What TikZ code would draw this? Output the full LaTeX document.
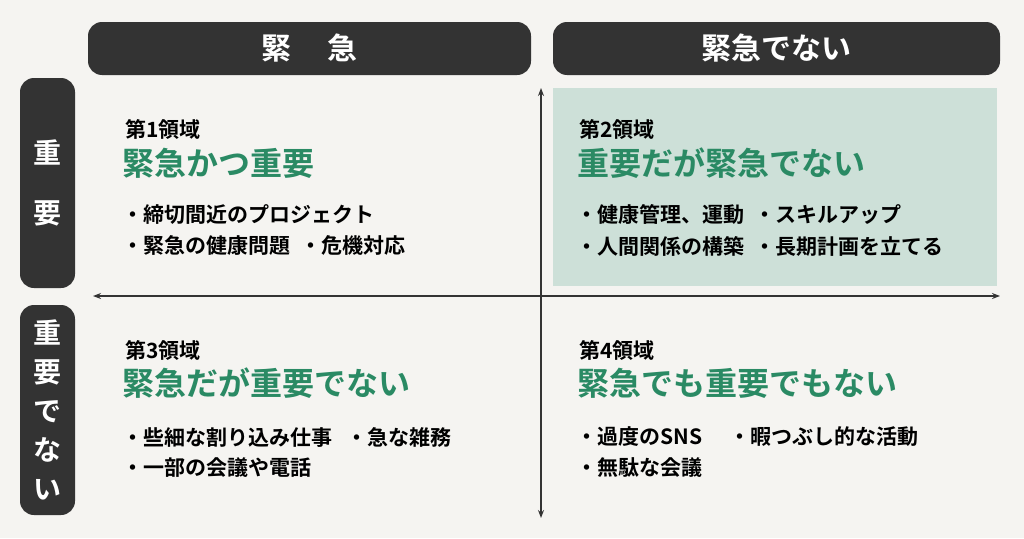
\documentclass[tikz,border=0pt]{standalone}
\usepackage{fontspec}
\setmainfont{Noto Sans CJK JP}[BoldFont={Noto Sans CJK JP Bold}]
\usetikzlibrary{arrows.meta}
\definecolor{bg}{HTML}{F5F4F1}
\definecolor{dark}{HTML}{333333}
\definecolor{grn}{HTML}{2A8A64}
\definecolor{lgrn}{HTML}{CDE0D8}
\begin{document}
\begin{tikzpicture}[x=1pt,y=-1pt,
  hdr/.style={fill=dark,rounded corners=14pt,text=white,font=\bfseries\fontsize{30}{34}\selectfont},
  lab/.style={anchor=west,font=\bfseries\fontsize{21}{24}\selectfont,inner sep=0},
  ttl/.style={anchor=west,text=grn,font=\bfseries\fontsize{32}{36}\selectfont,inner sep=0},
  itm/.style={anchor=west,font=\bfseries\fontsize{21}{24}\selectfont,inner sep=0},
  ax/.style={draw=dark,line width=1.6pt}]
\fill[bg] (0,0) rectangle (1024,538);
\useasboundingbox (0,0) rectangle (1024,538);
\fill[lgrn] (553,88) rectangle (997,286);
\node[hdr,minimum width=443,minimum height=53] (h1) at (309.5,48.5) {緊\hspace{1.2em}急};
\node[hdr,minimum width=447,minimum height=53] (h2) at (776.5,48.5) {緊急でない};
\node[hdr,minimum width=55,minimum height=210,align=center,font=\bfseries\fontsize{28}{60}\selectfont] (v1) at (47.5,183) {重\\要};
\node[hdr,minimum width=55,minimum height=210,align=center,font=\bfseries\fontsize{28}{39}\selectfont] (v2) at (47.5,410) {重\\要\\で\\な\\い};
\coordinate (l) at (93,296); \coordinate (r) at (1000,296);
\coordinate (t) at (541,88); \coordinate (b) at (541,518);
\draw[ax,{Stealth[length=8pt]}-{Stealth[length=8pt]}] (l) -- (r);
\draw[ax,{Stealth[length=8pt]}-{Stealth[length=8pt]}] (t) -- (b);
% Q1
\node[lab] (q1) at (125,129) {第1領域};
\node[ttl] (t1) at (122,163) {緊急かつ重要};
\node[itm] (a1) at (122,215) {・締切間近のプロジェクト};
\node[itm] (b1) at (122,246) {・緊急の健康問題\hspace{0.5em}・危機対応};
% Q2
\node[lab] (q2) at (579,129) {第2領域};
\node[ttl] (t2) at (577,163) {重要だが緊急でない};
\node[itm] (a2) at (576,215) {・健康管理、運動\hspace{0.5em}・スキルアップ};
\node[itm] (b2) at (576,246) {・人間関係の構築\hspace{0.5em}・長期計画を立てる};
% Q3
\node[lab] (q3) at (125,350) {第3領域};
\node[ttl] (t3) at (122,383) {緊急だが重要でない};
\node[itm] (a3) at (122,437) {・些細な割り込み仕事\hspace{0.7em}・急な雑務};
\node[itm] (b3) at (122,468) {・一部の会議や電話};
% Q4
\node[lab] (q4) at (579,350) {第4領域};
\node[ttl] (t4) at (577,383) {緊急でも重要でもない};
\node[itm] (a4) at (576,437) {・過度のSNS\hspace{1.3em}・暇つぶし的な活動};
\node[itm] (b4) at (576,468) {・無駄な会議};
\end{tikzpicture}
\end{document}
